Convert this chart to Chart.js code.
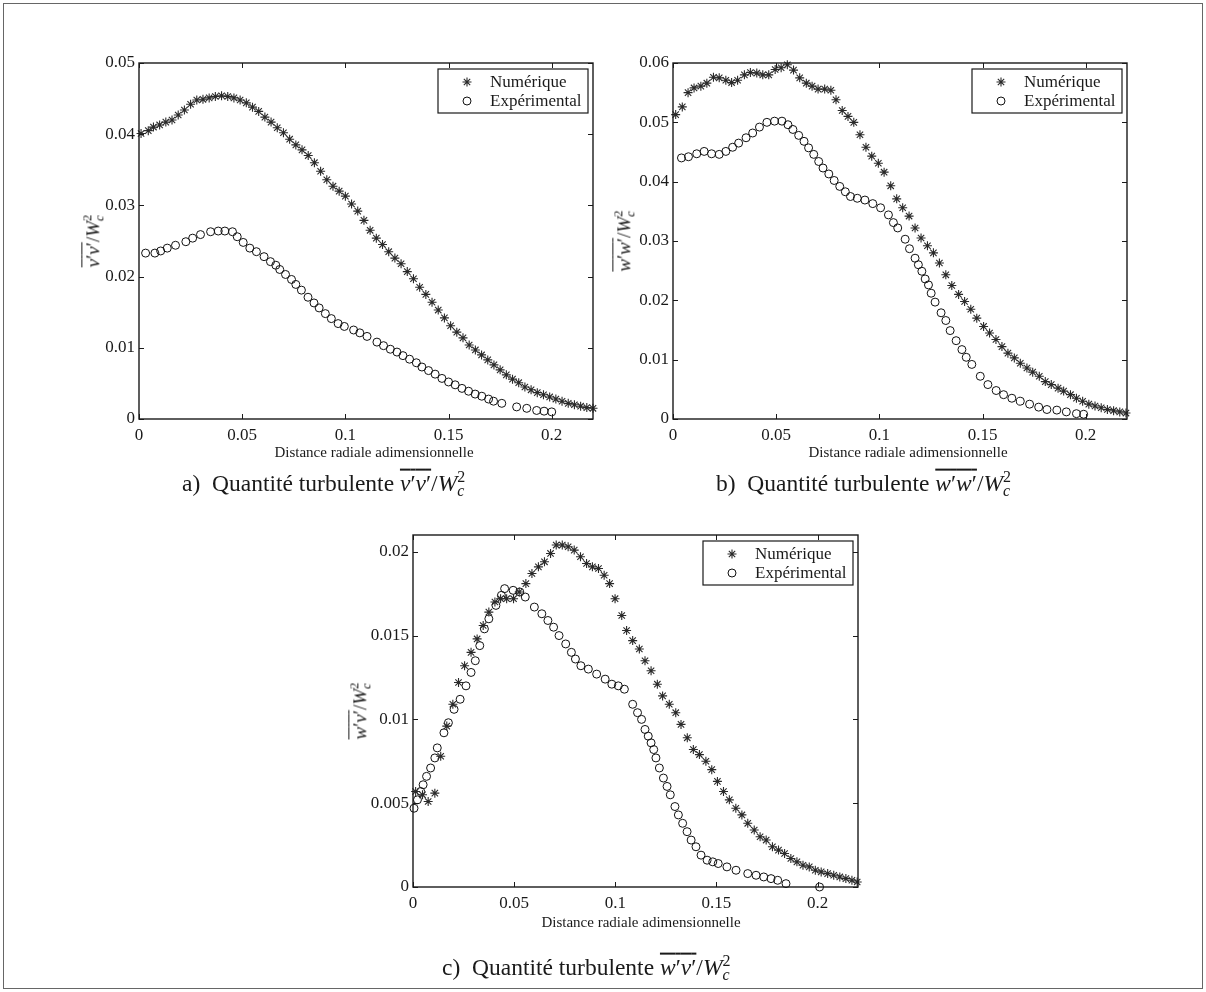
<!DOCTYPE html>
<html>
<head>
<meta charset="utf-8">
<script src="https://cdn.jsdelivr.net/npm/chart.js@4.4.1/dist/chart.umd.min.js"></script>
<style>
  body { margin: 0; background: #fff; }
  #page { position: relative; width: 1206px; height: 992px; overflow: hidden; font-family: "Liberation Serif", "DejaVu Serif", serif; color: #1a1a1a; }
  #frame { position: absolute; left: 3px; top: 3px; width: 1198px; height: 984px; border: 1px solid #666; }
  canvas { position: absolute; left: 0; top: 0; }
  .ytitle { position: absolute; font-size: 19px; white-space: nowrap; transform: translate(-50%, -50%) rotate(-90deg); }
  .xtitle { position: absolute; font-size: 15px; white-space: nowrap; transform: translate(-50%, -50%); }
  .caption { position: absolute; font-size: 23.5px; white-space: nowrap; transform: translateY(-50%); }
  .ov { text-decoration: overline; }
  .st { display: inline-block; vertical-align: -0.3em; font-size: 0.68em; line-height: 0.9; text-align: left; }
  .st span { display: block; }
</style>
</head>
<body>
<div id="page">
  <div id="frame"></div>
  <canvas id="chartA" width="1206" height="992"></canvas>
  <canvas id="chartB" width="1206" height="992"></canvas>
  <canvas id="chartC" width="1206" height="992"></canvas>

  <div class="ytitle" style="left:93px; top:241px;"><span class="ov"><i>v</i>′<i>v</i>′</span>/<i>W</i><span class="st"><span>2</span><span><i>c</i></span></span></div>
  <div class="ytitle" style="left:624px; top:241px;"><span class="ov"><i>w</i>′<i>w</i>′</span>/<i>W</i><span class="st"><span>2</span><span><i>c</i></span></span></div>
  <div class="ytitle" style="left:360px; top:711px;"><span class="ov"><i>w</i>′<i>v</i>′</span>/<i>W</i><span class="st"><span>2</span><span><i>c</i></span></span></div>

  <div class="xtitle" style="left:374px; top:452px;">Distance radiale adimensionnelle</div>
  <div class="xtitle" style="left:908px; top:452px;">Distance radiale adimensionnelle</div>
  <div class="xtitle" style="left:641px; top:922px;">Distance radiale adimensionnelle</div>

  <div class="caption" style="left:182px; top:484px;">a)&nbsp; Quantité turbulente <span class="ov"><i>v</i>′<i>v</i>′</span>/<i>W</i><span class="st"><span>2</span><span><i>c</i></span></span></div>
  <div class="caption" style="left:716px; top:484px;">b)&nbsp; Quantité turbulente <span class="ov"><i>w</i>′<i>w</i>′</span>/<i>W</i><span class="st"><span>2</span><span><i>c</i></span></span></div>
  <div class="caption" style="left:442px; top:968px;">c)&nbsp; Quantité turbulente <span class="ov"><i>w</i>′<i>v</i>′</span>/<i>W</i><span class="st"><span>2</span><span><i>c</i></span></span></div>
</div>

<script>
// legend labels
var seriesNames = ['Numérique', 'Expérimental'];

// a) v'v'/Wc^2
var aNumX = [0.001, 0.0045, 0.007, 0.010, 0.013, 0.016, 0.019, 0.022, 0.025, 0.028, 0.031, 0.034, 0.037, 0.040, 0.043, 0.046, 0.049, 0.052, 0.055, 0.058, 0.061, 0.064, 0.067, 0.070, 0.073, 0.076, 0.079, 0.082, 0.085, 0.088, 0.091, 0.094, 0.097, 0.100, 0.103, 0.106, 0.109, 0.112, 0.115, 0.118, 0.121, 0.124, 0.127, 0.130, 0.133, 0.136, 0.139, 0.142, 0.145, 0.148, 0.151, 0.154, 0.157, 0.160, 0.163, 0.166, 0.169, 0.172, 0.175, 0.178, 0.181, 0.184, 0.187, 0.190, 0.193, 0.196, 0.199, 0.202, 0.205, 0.208, 0.211, 0.214, 0.217, 0.220];
var aNumY = [0.0401, 0.0405, 0.0410, 0.0413, 0.0417, 0.0420, 0.0427, 0.0434, 0.0442, 0.0448, 0.0449, 0.0451, 0.0453, 0.0454, 0.0453, 0.0451, 0.0448, 0.0444, 0.0438, 0.0432, 0.0424, 0.0417, 0.0409, 0.0402, 0.0393, 0.0385, 0.0378, 0.0370, 0.0360, 0.0348, 0.0336, 0.0327, 0.0320, 0.0313, 0.0302, 0.0292, 0.0279, 0.0265, 0.0254, 0.0245, 0.0235, 0.0226, 0.0218, 0.0207, 0.0197, 0.0185, 0.0175, 0.0164, 0.0153, 0.0142, 0.0131, 0.0122, 0.0114, 0.0104, 0.0097, 0.0090, 0.0083, 0.0076, 0.0069, 0.0062, 0.0056, 0.0051, 0.0045, 0.0041, 0.0037, 0.0034, 0.0031, 0.0028, 0.0025, 0.0022, 0.0020, 0.0018, 0.0016, 0.0015];
var aExpX = [0.0032, 0.0077, 0.0105, 0.0137, 0.0177, 0.0227, 0.026, 0.0298, 0.0347, 0.0384, 0.0416, 0.0453, 0.0476, 0.0505, 0.0537, 0.0569, 0.0606, 0.0637, 0.0663, 0.0682, 0.071, 0.0739, 0.076, 0.0787, 0.0819, 0.0848, 0.0873, 0.0903, 0.0932, 0.0965, 0.0995, 0.104, 0.107, 0.1105, 0.1153, 0.1185, 0.1218, 0.125, 0.1279, 0.1311, 0.1344, 0.1371, 0.1403, 0.1435, 0.1468, 0.15, 0.1532, 0.1565, 0.1597, 0.1629, 0.1661, 0.1694, 0.1718, 0.1758, 0.183, 0.1879, 0.1927, 0.1963, 0.2];
var aExpY = [0.0233, 0.0233, 0.0236, 0.0240, 0.0244, 0.0249, 0.0254, 0.0259, 0.0263, 0.0264, 0.0264, 0.0263, 0.0256, 0.0248, 0.0240, 0.0235, 0.0228, 0.0221, 0.0216, 0.0210, 0.0203, 0.0196, 0.0189, 0.0181, 0.0171, 0.0163, 0.0156, 0.0148, 0.0141, 0.0134, 0.0130, 0.0125, 0.0121, 0.0116, 0.0108, 0.0103, 0.0098, 0.0094, 0.0089, 0.0084, 0.0079, 0.0073, 0.0068, 0.0063, 0.0057, 0.0052, 0.0048, 0.0043, 0.0039, 0.0035, 0.0032, 0.0028, 0.0025, 0.0022, 0.0017, 0.0015, 0.0012, 0.0011, 0.0010];

// b) w'w'/Wc^2
var bNumX = [0.0013, 0.0045, 0.0073, 0.0102, 0.0135, 0.0164, 0.0196, 0.0224, 0.0256, 0.0284, 0.0313, 0.0346, 0.0375, 0.0406, 0.0435, 0.0464, 0.0495, 0.0524, 0.0554, 0.0584, 0.0614, 0.0646, 0.0674, 0.0703, 0.0735, 0.0765, 0.0790, 0.0820, 0.0848, 0.0876, 0.0906, 0.0935, 0.0963, 0.0995, 0.1023, 0.1055, 0.1084, 0.1113, 0.1144, 0.1173, 0.1202, 0.1233, 0.1262, 0.1291, 0.1322, 0.1351, 0.1384, 0.1413, 0.1443, 0.1472, 0.1505, 0.1534, 0.1565, 0.1594, 0.1623, 0.1654, 0.1683, 0.1715, 0.1743, 0.1775, 0.1804, 0.1833, 0.1866, 0.1893, 0.1926, 0.1955, 0.1985, 0.2015, 0.2045, 0.2075, 0.2105, 0.2135, 0.2165, 0.2195];
var bNumY = [0.0513, 0.0526, 0.0550, 0.0558, 0.0561, 0.0566, 0.0576, 0.0575, 0.0571, 0.0567, 0.0571, 0.0580, 0.0584, 0.0583, 0.0580, 0.0580, 0.0589, 0.0592, 0.0597, 0.0588, 0.0575, 0.0566, 0.0561, 0.0556, 0.0556, 0.0554, 0.0538, 0.0520, 0.0510, 0.0500, 0.0479, 0.0458, 0.0443, 0.0431, 0.0416, 0.0393, 0.0371, 0.0356, 0.0342, 0.0322, 0.0305, 0.0292, 0.0280, 0.0263, 0.0243, 0.0225, 0.0210, 0.0198, 0.0185, 0.0170, 0.0156, 0.0145, 0.0134, 0.0122, 0.0111, 0.0103, 0.0094, 0.0086, 0.0079, 0.0072, 0.0063, 0.0058, 0.0052, 0.0047, 0.0041, 0.0035, 0.0030, 0.0025, 0.0022, 0.0019, 0.0016, 0.0014, 0.0012, 0.0010];
var bExpX = [0.0041, 0.0075, 0.0115, 0.0151, 0.0187, 0.0224, 0.0256, 0.0289, 0.0318, 0.0354, 0.0386, 0.0419, 0.0455, 0.0492, 0.0528, 0.0557, 0.0581, 0.0609, 0.0635, 0.0657, 0.0682, 0.0706, 0.0727, 0.0755, 0.0781, 0.0808, 0.0835, 0.0860, 0.0893, 0.0930, 0.0968, 0.1006, 0.1044, 0.1068, 0.1089, 0.1125, 0.1146, 0.1173, 0.1189, 0.1206, 0.1222, 0.1238, 0.1251, 0.1270, 0.1299, 0.1322, 0.1343, 0.1372, 0.1400, 0.1421, 0.1448, 0.1489, 0.1526, 0.1566, 0.1602, 0.1642, 0.1683, 0.1728, 0.1772, 0.1812, 0.1860, 0.1906, 0.1955, 0.1990];
var bExpY = [0.0440, 0.0442, 0.0447, 0.0451, 0.0447, 0.0446, 0.0451, 0.0458, 0.0465, 0.0474, 0.0482, 0.0492, 0.0500, 0.0502, 0.0502, 0.0496, 0.0488, 0.0478, 0.0468, 0.0457, 0.0446, 0.0434, 0.0423, 0.0413, 0.0402, 0.0392, 0.0383, 0.0375, 0.0372, 0.0369, 0.0363, 0.0356, 0.0344, 0.0331, 0.0322, 0.0303, 0.0287, 0.0271, 0.0260, 0.0249, 0.0236, 0.0226, 0.0212, 0.0197, 0.0179, 0.0166, 0.0149, 0.0132, 0.0117, 0.0104, 0.0092, 0.0072, 0.0058, 0.0048, 0.0041, 0.0035, 0.0030, 0.0025, 0.0020, 0.0016, 0.0015, 0.0012, 0.0009, 0.0008];

// c) w'v'/Wc^2
var cNumX = [0.0013, 0.0047, 0.0075, 0.0108, 0.0137, 0.0167, 0.0197, 0.0225, 0.0255, 0.0287, 0.0317, 0.0347, 0.0375, 0.0405, 0.0433, 0.0463, 0.0497, 0.0525, 0.0558, 0.0588, 0.0620, 0.0650, 0.0680, 0.0708, 0.0738, 0.0767, 0.0797, 0.0828, 0.0858, 0.0887, 0.0917, 0.0945, 0.0972, 0.0999, 0.1032, 0.1056, 0.1086, 0.1119, 0.1147, 0.1177, 0.1208, 0.1234, 0.1267, 0.1299, 0.1325, 0.1356, 0.1386, 0.1416, 0.1448, 0.1477, 0.1505, 0.1535, 0.1564, 0.1596, 0.1626, 0.1655, 0.1687, 0.1716, 0.1746, 0.1777, 0.1807, 0.1837, 0.1868, 0.1898, 0.1928, 0.1959, 0.1989, 0.2018, 0.2050, 0.2080, 0.2110, 0.2140, 0.2170, 0.2196];
var cNumY = [0.0057, 0.0055, 0.0051, 0.0056, 0.0078, 0.0096, 0.0109, 0.0122, 0.0132, 0.0140, 0.0148, 0.0156, 0.0164, 0.0170, 0.0172, 0.0172, 0.0172, 0.0176, 0.0181, 0.0187, 0.0191, 0.0194, 0.0199, 0.0204, 0.0204, 0.0203, 0.0201, 0.0197, 0.0193, 0.0191, 0.0190, 0.0186, 0.0181, 0.0172, 0.0162, 0.0153, 0.0147, 0.0142, 0.0135, 0.0129, 0.0121, 0.0114, 0.0109, 0.0104, 0.0097, 0.0089, 0.0082, 0.0079, 0.0075, 0.0070, 0.0063, 0.0057, 0.0052, 0.0047, 0.0043, 0.0038, 0.0034, 0.0030, 0.0028, 0.0024, 0.0022, 0.0020, 0.0017, 0.0015, 0.0013, 0.0012, 0.0010, 0.0009, 0.0008, 0.0007, 0.0006, 0.0005, 0.0004, 0.0003];
var cExpX = [0.0005, 0.0022, 0.0038, 0.0050, 0.0067, 0.0087, 0.0108, 0.0120, 0.0153, 0.0175, 0.0203, 0.0233, 0.0262, 0.0287, 0.0308, 0.0330, 0.0353, 0.0375, 0.0410, 0.0437, 0.0453, 0.0495, 0.0528, 0.0555, 0.0600, 0.0637, 0.0667, 0.0695, 0.0722, 0.0755, 0.0783, 0.0803, 0.0830, 0.0867, 0.0908, 0.0950, 0.0983, 0.1015, 0.1045, 0.1086, 0.1110, 0.1130, 0.1147, 0.1163, 0.1177, 0.1190, 0.1201, 0.1218, 0.1238, 0.1256, 0.1272, 0.1295, 0.1312, 0.1333, 0.1355, 0.1375, 0.1399, 0.1424, 0.1454, 0.1482, 0.1509, 0.1552, 0.1597, 0.1655, 0.1696, 0.1734, 0.1770, 0.1803, 0.1844, 0.2010];
var cExpY = [0.0047, 0.0052, 0.0057, 0.0061, 0.0066, 0.0071, 0.0077, 0.0083, 0.0092, 0.0098, 0.0106, 0.0112, 0.0120, 0.0128, 0.0135, 0.0144, 0.0154, 0.0160, 0.0168, 0.0174, 0.0178, 0.0177, 0.0176, 0.0173, 0.0167, 0.0163, 0.0159, 0.0155, 0.0150, 0.0145, 0.0140, 0.0136, 0.0132, 0.0130, 0.0127, 0.0124, 0.0121, 0.0120, 0.0118, 0.0109, 0.0104, 0.0100, 0.0094, 0.0090, 0.0086, 0.0082, 0.0077, 0.0071, 0.0065, 0.0060, 0.0055, 0.0048, 0.0043, 0.0038, 0.0033, 0.0028, 0.0024, 0.0019, 0.0016, 0.0015, 0.0014, 0.0012, 0.0010, 0.0008, 0.0007, 0.0006, 0.0005, 0.0004, 0.0002, 0.0000];

// tick values of the axes
var xTicks = [0, 0.05, 0.1, 0.15, 0.2];
var aYTicks = [0, 0.01, 0.02, 0.03, 0.04, 0.05];
var bYTicks = [0, 0.01, 0.02, 0.03, 0.04, 0.05, 0.06];
var cYTicks = [0, 0.005, 0.01, 0.015, 0.02];

var PAGE_W = 1206, PAGE_H = 992;
var Y_AXIS_W = 50, X_AXIS_H = 30;
var tickFont = { family: '"Liberation Serif", serif', size: 17 };

function toPoints(xs, ys) {
    return xs.map(function (x, i) { return { x: x, y: ys[i] }; });
}

function drawMarker(ctx, style, x, y) {
    ctx.beginPath();
    if (style === 'star') {
        var r = 4.5, d = r * 0.7071;
        ctx.moveTo(x - r, y); ctx.lineTo(x + r, y);
        ctx.moveTo(x, y - r); ctx.lineTo(x, y + r);
        ctx.moveTo(x - d, y - d); ctx.lineTo(x + d, y + d);
        ctx.moveTo(x - d, y + d); ctx.lineTo(x + d, y - d);
    } else {
        ctx.arc(x, y, 4, 0, Math.PI * 2);
    }
    ctx.stroke();
}

// box, inward ticks on all four sides and legend inside the plot
var matlabBox = {
    id: 'matlabBox',
    afterDraw: function (chart) {
        var ctx = chart.ctx, a = chart.chartArea;
        var xs = chart.scales.x, ys = chart.scales.y;
        ctx.save();
        ctx.strokeStyle = '#1a1a1a';
        ctx.lineWidth = 1;
        xs.ticks.forEach(function (t) {
            var px = Math.round(xs.getPixelForValue(t.value)) + 0.5;
            ctx.beginPath();
            ctx.moveTo(px, a.bottom); ctx.lineTo(px, a.bottom - 5);
            ctx.moveTo(px, a.top); ctx.lineTo(px, a.top + 5);
            ctx.stroke();
        });
        ys.ticks.forEach(function (t) {
            var py = Math.round(ys.getPixelForValue(t.value)) + 0.5;
            ctx.beginPath();
            ctx.moveTo(a.left, py); ctx.lineTo(a.left + 5, py);
            ctx.moveTo(a.right, py); ctx.lineTo(a.right - 5, py);
            ctx.stroke();
        });
        ctx.lineWidth = 1.4;
        ctx.strokeRect(a.left, a.top, a.right - a.left, a.bottom - a.top);

        // legend
        var w = 150, h = 44;
        var lx = a.right - 5 - w, ly = a.top + 6;
        ctx.fillStyle = '#fff';
        ctx.fillRect(lx, ly, w, h);
        ctx.lineWidth = 1.2;
        ctx.strokeRect(lx, ly, w, h);
        ctx.font = '17px "Liberation Serif", serif';
        ctx.textBaseline = 'middle';
        chart.data.datasets.forEach(function (ds, i) {
            var my = ly + 13 + i * 19;
            ctx.strokeStyle = ds.borderColor;
            ctx.lineWidth = ds.borderWidth;
            drawMarker(ctx, ds.pointStyle, lx + 29, my);
            ctx.fillStyle = '#1a1a1a';
            ctx.fillText(ds.label, lx + 52, my + 1);
        });
        ctx.restore();
    }
};

function createChart(canvasId, box, numX, numY, expX, expY, yMax, yTicks) {
    var ctx = document.getElementById(canvasId).getContext('2d');
    return new Chart(ctx, {
        type: 'scatter',
        data: {
            datasets: [{
                label: seriesNames[0],
                data: toPoints(numX, numY),
                pointStyle: 'star',
                pointRadius: 4.5,
                borderColor: '#2a2a2a',
                borderWidth: 1.1,
                clip: false
            }, {
                label: seriesNames[1],
                data: toPoints(expX, expY),
                pointStyle: 'circle',
                pointRadius: 4,
                backgroundColor: 'rgba(0,0,0,0)',
                borderColor: '#111',
                borderWidth: 1,
                clip: false
            }]
        },
        options: {
            responsive: false,
            animation: false,
            events: [],
            layout: {
                padding: {
                    left: box.left - Y_AXIS_W,
                    top: box.top,
                    right: PAGE_W - box.right,
                    bottom: PAGE_H - box.bottom - X_AXIS_H
                }
            },
            plugins: { legend: { display: false }, tooltip: { enabled: false } },
            scales: {
                x: {
                    type: 'linear',
                    min: 0,
                    max: 0.22,
                    afterFit: function (s) { s.height = X_AXIS_H; },
                    afterBuildTicks: function (s) { s.ticks = xTicks.map(function (v) { return { value: v }; }); },
                    ticks: {
                        font: tickFont,
                        color: '#1a1a1a',
                        padding: 6,
                        maxRotation: 0,
                        autoSkip: false,
                        callback: function (v) { return String(v); }
                    },
                    grid: { display: false, drawTicks: false },
                    border: { display: false }
                },
                y: {
                    type: 'linear',
                    min: 0,
                    max: yMax,
                    afterFit: function (s) { s.width = Y_AXIS_W; },
                    afterBuildTicks: function (s) { s.ticks = yTicks.map(function (v) { return { value: v }; }); },
                    ticks: {
                        font: tickFont,
                        color: '#1a1a1a',
                        padding: 4,
                        autoSkip: false,
                        callback: function (v) { return String(v); }
                    },
                    grid: { display: false, drawTicks: false },
                    border: { display: false }
                }
            }
        },
        plugins: [matlabBox]
    });
}

var chartA = createChart('chartA', { left: 139, top: 63, right: 593, bottom: 419 }, aNumX, aNumY, aExpX, aExpY, 0.05, aYTicks);
var chartB = createChart('chartB', { left: 673, top: 63, right: 1127, bottom: 419 }, bNumX, bNumY, bExpX, bExpY, 0.06, bYTicks);
var chartC = createChart('chartC', { left: 413, top: 535, right: 858, bottom: 887 }, cNumX, cNumY, cExpX, cExpY, 0.021, cYTicks);
</script>
</body>
</html>
